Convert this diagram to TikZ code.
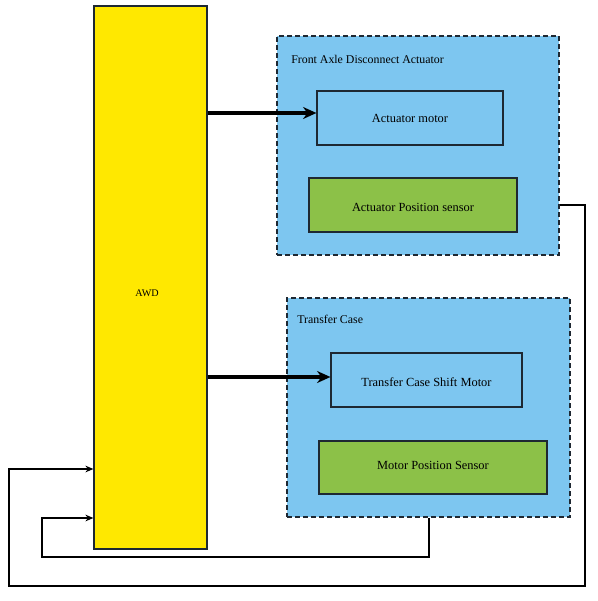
\documentclass[tikz,border=0pt]{standalone}
\usepackage{fontspec}
\setmainfont{Liberation Serif}
\usetikzlibrary{arrows.meta}
\definecolor{skyb}{RGB}{125,198,240}
\definecolor{grn}{RGB}{140,193,72}
\definecolor{yel}{RGB}{255,232,0}
\definecolor{edge}{RGB}{30,40,50}
\tikzset{
  box/.style={draw=edge, line width=0.9pt, inner sep=0pt, font=\fontsize{9.3}{11}\selectfont},
  motorbox/.style={box, fill=skyb},
  sensorbox/.style={box, fill=grn},
  group/.style={draw=edge, dash pattern=on 3.75pt off 2.25pt, line width=0.9pt, fill=skyb},
  title/.style={anchor=west, inner sep=0pt, font=\fontsize{8.9}{10}\selectfont},
  bigarrow/.style={line width=3pt, -{Stealth[length=10pt,width=9pt]}},
  fb/.style={line width=1.5pt, -{Stealth[length=6pt,width=5pt]}}
}
\begin{document}
\begin{tikzpicture}[x=0.75pt,y=-0.75pt]
\useasboundingbox (0,0) rectangle (598,601);
% AWD
\node[box, fill=yel, minimum width=113*0.75pt, minimum height=543*0.75pt] (awd) at (150.5,277.5) {};
\node[inner sep=0pt, font=\fontsize{7.6}{9}\selectfont] (awdl) at (147,293) {AWD};
% Front axle group
\node[group, minimum width=282*0.75pt, minimum height=219*0.75pt, inner sep=0pt] (fad) at (418,145.5) {};
\node[title] (fadt) at (291,59) {Front Axle Disconnect Actuator};
\node[motorbox, minimum width=186*0.75pt, minimum height=54*0.75pt] (am) at (410,118) {Actuator motor};
\node[sensorbox, minimum width=208*0.75pt, minimum height=54*0.75pt, text height=9.5pt, text depth=0pt] (aps) at (413,205) {Actuator Position sensor};
% Transfer case group
\node[group, minimum width=283*0.75pt, minimum height=219*0.75pt, inner sep=0pt] (tc) at (428.5,407.5) {};
\node[title] (tct) at (297,319) {Transfer Case};
\node[motorbox, minimum width=191*0.75pt, minimum height=54*0.75pt, text height=9.5pt, text depth=0pt] (tcm) at (426.5,380) {Transfer Case Shift Motor};
\node[sensorbox, minimum width=228*0.75pt, minimum height=53*0.75pt, text height=6.5pt, text depth=4pt] (mps) at (433,467.5) {Motor Position Sensor};
% control arrows
\draw[bigarrow] (awd.east |- 0,113) -- (am.west |- 0,113);
\draw[bigarrow] (awd.east |- 0,377) -- (tcm.west |- 0,377);
% feedback
\coordinate (c1) at (585,586);
\coordinate (c2) at (9,469);
\coordinate (c3) at (42,557);
\coordinate (c4) at (42,518);
\draw[fb] (fad.east |- aps.east) -| (c1) -| (c2) -- (awd.west |- c2);
\draw[fb] (tc.south) |- (c3) -- (c4) -- (awd.west |- c4);
\end{tikzpicture}
\end{document}
